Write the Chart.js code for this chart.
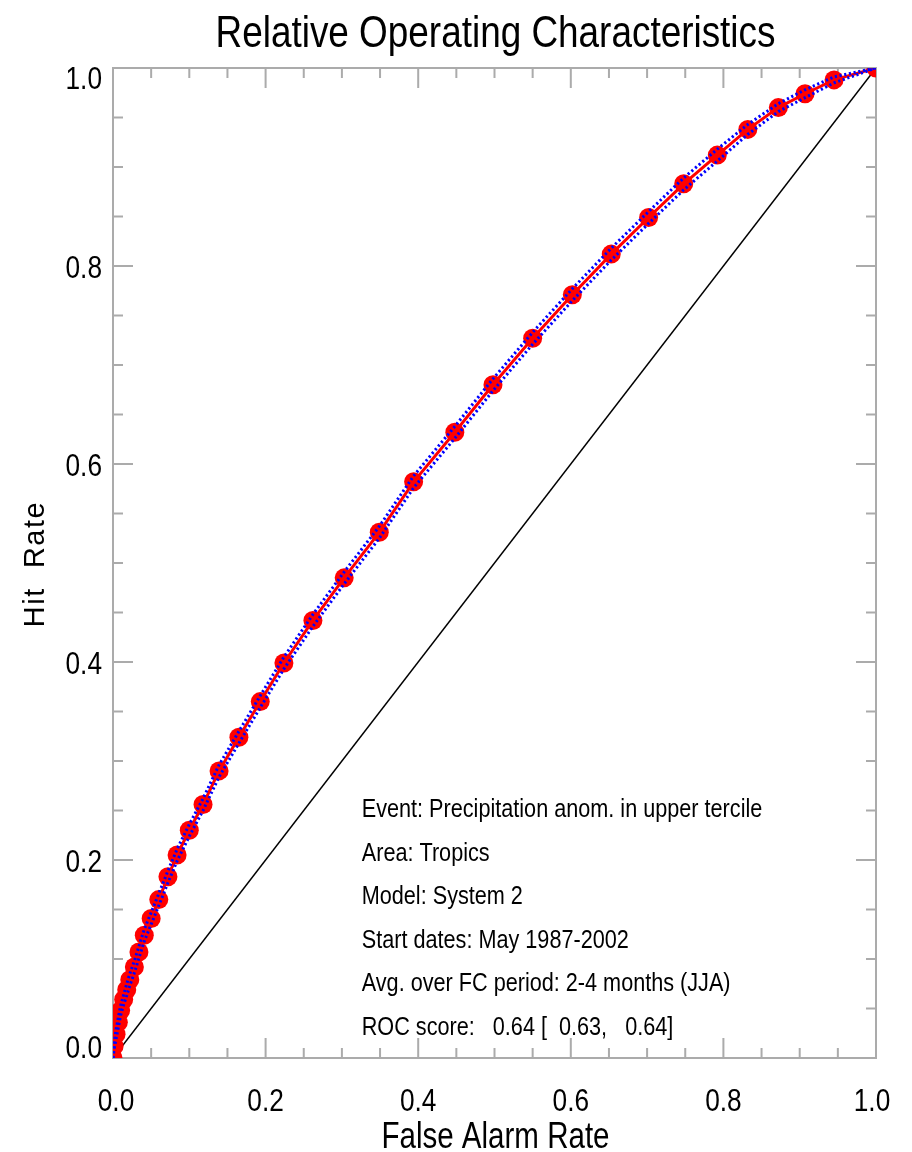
<!DOCTYPE html>
<html><head><meta charset="utf-8">
<script src="https://cdn.jsdelivr.net/npm/chart.js@4.4.0/dist/chart.umd.min.js"></script>
<style>html,body{margin:0;padding:0;background:#fff;} canvas{display:block;}</style>
</head><body>
<canvas id="c" width="912" height="1152"></canvas>
<script>
// ---- data ----
const falseAlarmRate = [0, 0.0015, 0.004, 0.007, 0.010, 0.014, 0.018, 0.022, 0.028, 0.034, 0.041, 0.050, 0.060, 0.072, 0.084, 0.100, 0.118, 0.139, 0.165, 0.193, 0.224, 0.262, 0.303, 0.349, 0.394, 0.448, 0.498, 0.550, 0.602, 0.653, 0.702, 0.748, 0.792, 0.832, 0.872, 0.907, 0.945, 1.0];
const hitRate = [0, 0.012, 0.024, 0.036, 0.048, 0.059, 0.069, 0.079, 0.092, 0.107, 0.124, 0.141, 0.160, 0.183, 0.205, 0.230, 0.256, 0.290, 0.324, 0.360, 0.399, 0.442, 0.485, 0.531, 0.582, 0.632, 0.680, 0.727, 0.771, 0.812, 0.849, 0.883, 0.912, 0.938, 0.960, 0.974, 0.988, 1.0];
const hitRateUpper = [0, 0.015, 0.029, 0.041, 0.053, 0.064, 0.075, 0.085, 0.098, 0.113, 0.130, 0.147, 0.166, 0.189, 0.211, 0.236, 0.262, 0.296, 0.330, 0.366, 0.405, 0.448, 0.491, 0.537, 0.588, 0.638, 0.686, 0.733, 0.777, 0.818, 0.855, 0.889, 0.918, 0.943, 0.964, 0.978, 0.991, 1.0];
const hitRateLower = [0, 0.009, 0.019, 0.031, 0.043, 0.054, 0.063, 0.073, 0.086, 0.101, 0.118, 0.135, 0.154, 0.177, 0.199, 0.224, 0.250, 0.284, 0.318, 0.354, 0.393, 0.436, 0.479, 0.525, 0.576, 0.626, 0.674, 0.721, 0.765, 0.806, 0.843, 0.877, 0.906, 0.933, 0.956, 0.970, 0.985, 1.0];
const noSkillX = [0, 1];
const noSkillY = [0, 1];
const tickValues = [0, 0.2, 0.4, 0.6, 0.8, 1.0];
const tickLabels = ['0.0', '0.2', '0.4', '0.6', '0.8', '1.0'];
const titleText = 'Relative Operating Characteristics';
const xTitle = 'False Alarm Rate';
const yTitle = 'Hit  Rate';
const infoLines = [
  'Event: Precipitation anom. in upper tercile',
  'Area: Tropics',
  'Model: System 2',
  'Start dates: May 1987-2002',
  'Avg. over FC period: 2-4 months (JJA)',
  'ROC score:   0.64 [  0.63,   0.64]'
];

const SANS = '"Liberation Sans", Arial, Helvetica, sans-serif';
const pts = (xs, ys) => xs.map((x, i) => ({x: x, y: ys[i]}));

// draw horizontally condensed text (Helvetica Narrow look)
function narrowText(ctx, text, x, y, size, align, squeeze) {
  ctx.save();
  ctx.translate(x, y);
  ctx.scale(squeeze, 1);
  ctx.font = size + 'px ' + SANS;
  ctx.textAlign = align;
  ctx.textBaseline = 'alphabetic';
  ctx.fillText(text, 0, 0);
  ctx.restore();
}

const decor = {
  id: 'decor',
  beforeDatasetsDraw(chart) {
    const {ctx, chartArea: a, scales: {x, y}} = chart;
    ctx.save();
    ctx.strokeStyle = '#ababab';
    ctx.lineWidth = 2;
    ctx.strokeRect(a.left, a.top, a.right - a.left, a.bottom - a.top);
    ctx.beginPath();
    for (let k = 0; k <= 20; k++) {
      const v = k / 20;
      const len = (k % 4 === 0) ? 20 : 10;
      const px = x.getPixelForValue(v), py = y.getPixelForValue(v);
      ctx.moveTo(px, a.bottom); ctx.lineTo(px, a.bottom - len);
      ctx.moveTo(px, a.top); ctx.lineTo(px, a.top + len);
      ctx.moveTo(a.left, py); ctx.lineTo(a.left + len, py);
      ctx.moveTo(a.right, py); ctx.lineTo(a.right - len, py);
    }
    ctx.stroke();
    ctx.restore();
  },
  afterDraw(chart) {
    const {ctx, chartArea: a, scales: {x, y}} = chart;
    ctx.save();
    ctx.fillStyle = '#000';
    // y tick labels
    tickValues.forEach((v, i) => {
      let py = y.getPixelForValue(v);
      py = Math.min(Math.max(py, a.top + 9), a.bottom - 12);
      narrowText(ctx, tickLabels[i], a.left - 11, py + 12, 32, 'right', 0.82);
    });
    // x tick labels
    tickValues.forEach((v, i) => {
      let px = x.getPixelForValue(v);
      px = Math.min(Math.max(px, a.left + 3), a.right - 4);
      narrowText(ctx, tickLabels[i], px, a.bottom + 53, 32, 'center', 0.82);
    });
    // title
    narrowText(ctx, titleText, (a.left + a.right) / 2 + 1, 47, 45, 'center', 0.82);
    // x title
    narrowText(ctx, xTitle, (a.left + a.right) / 2 + 1, 1148, 36, 'center', 0.82);
    // y title
    ctx.save();
    ctx.translate(44, (a.top + a.bottom) / 2 + 1);
    ctx.rotate(-Math.PI / 2);
    ctx.font = '29px ' + SANS;
    ctx.letterSpacing = '1.5px';
    ctx.textAlign = 'center';
    ctx.textBaseline = 'alphabetic';
    ctx.fillText(yTitle, 0, 0);
    ctx.restore();
    // info text
    const tx = x.getPixelForValue(0.326);
    infoLines.forEach((t, i) => {
      narrowText(ctx, t, tx, y.getPixelForValue(0.2434) + i * 43.6, 26.4, 'left', 0.82);
    });
    ctx.restore();
  }
};

new Chart(document.getElementById('c'), {
  type: 'scatter',
  data: {
    datasets: [
      {data: pts(falseAlarmRate, hitRateUpper), showLine: true, borderColor: '#0000ff', borderWidth: 3, borderDash: [2.2, 2.6], pointRadius: 0, clip: 0},
      {data: pts(falseAlarmRate, hitRateLower), showLine: true, borderColor: '#0000ff', borderWidth: 3, borderDash: [2.2, 2.6], pointRadius: 0, clip: 0},
      {data: pts(falseAlarmRate, hitRate), showLine: true, borderColor: '#ff0000', borderWidth: 3, pointRadius: 9.5, pointBackgroundColor: '#ff0000', pointBorderWidth: 0, clip: 0},
      {data: pts(noSkillX, noSkillY), showLine: true, borderColor: '#000000', borderWidth: 1.5, pointRadius: 0, clip: 0}
    ]
  },
  options: {
    responsive: false,
    animation: false,
    devicePixelRatio: 1,
    layout: {padding: {left: 0, right: 36, top: 68, bottom: 0}},
    plugins: {legend: {display: false}, tooltip: {enabled: false}, title: {display: false}},
    scales: {
      x: {
        type: 'linear', min: 0, max: 1,
        grid: {display: false}, border: {display: false},
        ticks: {display: false, stepSize: 0.2},
        afterFit: (s) => { s.height = 94; }
      },
      y: {
        type: 'linear', min: 0, max: 1,
        grid: {display: false}, border: {display: false},
        ticks: {display: false, stepSize: 0.2},
        afterFit: (s) => { s.width = 113; }
      }
    }
  },
  plugins: [decor]
});
</script>
</body></html>
